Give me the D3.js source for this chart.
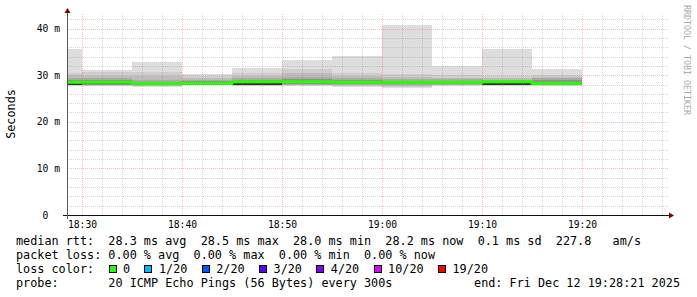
<!DOCTYPE html>
<html><head><meta charset="utf-8">
<script src="https://cdn.jsdelivr.net/npm/d3@7"></script>
<style>
html,body{margin:0;padding:0;background:#fff;}
svg{display:block;}
text{font-family:"DejaVu Sans Mono",monospace;}
</style></head><body>
<svg id="chart" width="697" height="297"></svg>
<script>
// ---- data (ms), one value per 5-minute bin, bins end at these times ----
const binEnds  = ["18:30","18:35","18:40","18:45","18:50","18:55","19:00","19:05","19:10","19:15","19:20"];
const median   = [28.5, 28.5, 28.2, 28.3, 28.6, 28.6, 28.5, 28.5, 28.5, 28.6, 28.3];
const pingMax  = [35.6, 31.1, 32.8, 30.2, 31.6, 33.3, 34.1, 40.8, 32.0, 35.6, 31.3];
const band2Hi  = [30.5, 30.6, 30.7, 29.8, 30.5, 31.4, 30.5, 30.3, 30.0, 29.8, 30.0];
const band3Hi  = [30.0, 29.9, 29.8, 29.5, 29.8, 30.4, 29.8, 29.6, 29.5, 29.3, 29.6];
const band4Hi  = [29.4, 29.3, 29.0, 29.0, 29.3, 29.6, 29.3, 29.1, 29.1, 29.0, 29.3];
const band5Hi  = [29.0, 28.9, 28.6, 28.7, 29.0, 29.1, 28.9, 28.8, 28.8, 28.8, 29.0];
const coreHi   = [28.6, 28.6, 28.3, 28.5, 28.7, 28.8, 28.6, 28.6, 28.6, 28.7, 28.5];
const coreLo   = [28.0, 28.1, 28.0, 28.1, 28.0, 28.4, 28.3, 28.3, 28.3, 28.0, 28.1];
const band5Lo  = [27.95,27.9, 27.9, 28.0, 27.9, 28.2, 28.1, 28.1, 28.1, 27.95,28.0];
const band4Lo  = [27.9, 27.85,27.8, 27.95,27.85,28.0, 27.9, 27.9, 28.0, 27.9, 27.9];
const band3Lo  = [27.85,27.8, 27.7, 27.9, 27.8, 27.9, 27.8, 27.7, 27.9, 27.85,27.85];
const band2Lo  = [27.8, 27.75,27.6, 27.85,27.75,27.8, 27.6, 27.5, 27.8, 27.8, 27.8];
const pingMin  = [27.7, 27.6, 27.5, 27.8, 27.6, 27.6, 27.4, 27.3, 27.7, 27.7, 27.7];

const yTickValues = [0, 10, 20, 30, 40];
const yTickLabels = ["0", "10 m", "20 m", "30 m", "40 m"];
const xTickLabels = ["18:30","18:40","18:50","19:00","19:10","19:20"];

const lossColors = ["#26ff00","#00b8ff","#0059ff","#5e00ff","#7e00ff","#dd00ff","#ff0000"];
const lossLabels = ["0","1/20","2/20","3/20","4/20","10/20","19/20"];

const legendRtt  = "median rtt:  28.3 ms avg  28.5 ms max  28.0 ms min  28.2 ms now  0.1 ms sd  227.8   am/s";
const legendLoss = "packet loss: 0.00 % avg  0.00 % max  0.00 % min  0.00 % now";
const legendProbe = "probe:       20 ICMP Echo Pings (56 Bytes) every 300s";
const legendEnd  = "end: Fri Dec 12 19:28:21 2025";

// ---- chart ----
const svg = d3.select("#chart");
const parse = d3.timeParse("%H:%M:%S");
const tStart = parse("18:28:30"), tEnd = parse("19:28:30");
const x = d3.scaleTime().domain([tStart, tEnd]).range([67, 667]);
const y = d3.scaleLinear().domain([0, 43.35]).range([215, 13]);
const nb = s => s.replace(/ /g, "\u00a0");

const bins = binEnds.map((e, i) => {
  const end = parse(e + ":00");
  const start = new Date(+end - 300000);
  return {i, start: start < tStart ? tStart : start, end};
});

const bands = [
  [pingMin, pingMax, "#dddddd"],
  [band2Lo, band2Hi, "#cecece"],
  [band3Lo, band3Hi, "#bcbcbc"],
  [band4Lo, band4Hi, "#aaaaaa"],
  [band5Lo, band5Hi, "#8f8f8f"],
  [coreLo, coreHi, "#353535"]
];
const gSmoke = svg.append("g").attr("shape-rendering", "crispEdges");
bands.forEach(([lo, hi, col]) => {
  gSmoke.append("g").selectAll("rect").data(bins).join("rect")
    .attr("x", d => x(d.start))
    .attr("width", d => x(d.end) - x(d.start))
    .attr("y", d => y(hi[d.i]))
    .attr("height", d => y(lo[d.i]) - y(hi[d.i]))
    .attr("fill", col);
});

// median line (step)
const medPts = bins.map(d => [d.start, median[d.i]]);
medPts.push([bins[bins.length - 1].end, median[median.length - 1]]);
svg.append("path")
  .attr("d", d3.line().x(d => x(d[0])).y(d => y(d[1])).curve(d3.curveStepAfter)(medPts))
  .attr("fill", "none").attr("stroke", lossColors[0]).attr("stroke-width", 3);

// grid (drawn over data like rrdtool)
const gGrid = svg.append("g").attr("shape-rendering", "crispEdges");
const minorT = d3.timeMinute.every(2).range(tStart, tEnd).filter(t => t.getMinutes() % 10 !== 0);
const majorT = d3.timeMinute.every(10).range(tStart, tEnd);
const minorY = d3.range(2, 43.35, 2).filter(v => v % 10 !== 0);
const majorY = yTickValues.filter(v => v > 0);
const minorCol = "rgba(150,150,150,0.38)", majorCol = "rgba(230,100,100,0.4)";
gGrid.selectAll(".mv").data(minorT).join("line")
  .attr("x1", d => Math.round(x(d)) + 0.5).attr("x2", d => Math.round(x(d)) + 0.5)
  .attr("y1", y(0)).attr("y2", 13)
  .attr("stroke", minorCol).attr("stroke-dasharray", "1,1");
gGrid.selectAll(".mh").data(minorY).join("line")
  .attr("y1", d => Math.round(y(d)) + 0.5).attr("y2", d => Math.round(y(d)) + 0.5)
  .attr("x1", 67).attr("x2", 668)
  .attr("stroke", minorCol).attr("stroke-dasharray", "1,1");
gGrid.selectAll(".Mv").data(majorT).join("line")
  .attr("x1", d => Math.round(x(d)) + 0.5).attr("x2", d => Math.round(x(d)) + 0.5)
  .attr("y1", y(0)).attr("y2", 13)
  .attr("stroke", majorCol).attr("stroke-dasharray", "1,1");
gGrid.selectAll(".Mh").data(majorY).join("line")
  .attr("y1", d => Math.round(y(d)) + 0.5).attr("y2", d => Math.round(y(d)) + 0.5)
  .attr("x1", 67).attr("x2", 668)
  .attr("stroke", majorCol).attr("stroke-dasharray", "1,1");

// axes lines + arrows
svg.append("line").attr("x1", 63).attr("x2", 670).attr("y1", 215.5).attr("y2", 215.5)
  .attr("stroke", "#111").attr("shape-rendering", "crispEdges");
svg.append("line").attr("x1", 67.5).attr("x2", 67.5).attr("y1", 219).attr("y2", 12)
  .attr("stroke", "#555").attr("shape-rendering", "crispEdges");
svg.append("path").attr("d", "M64.5,13L70.5,13L67.5,8Z").attr("fill", "#7f0000");
svg.append("path").attr("d", "M669,212.5L669,218.5L674,215.5Z").attr("fill", "#7f0000");

// tick labels via d3 axes
const yAxis = d3.axisLeft(y).tickValues(yTickValues).tickSize(0).tickPadding(7)
  .tickFormat((d, i) => { const l = yTickLabels[i]; return l.length < 4 ? l + "\u00a0\u00a0" : nb(l); });
const gy = svg.append("g").attr("transform", "translate(67,0)").call(yAxis);
gy.select(".domain").remove();
gy.selectAll("text").attr("font-family", "DejaVu Sans Mono").attr("font-size", "9.7px").attr("fill", "#000");

const xTicks = xTickLabels.map(s => parse(s + ":00"));
const xAxis = d3.axisBottom(x).tickValues(xTicks).tickSize(0).tickPadding(6)
  .tickFormat((d, i) => xTickLabels[i]);
const gx = svg.append("g").attr("transform", "translate(0,215)").call(xAxis);
gx.select(".domain").remove();
gx.selectAll("text").attr("font-family", "DejaVu Sans Mono").attr("font-size", "9.7px").attr("fill", "#000");

// axis title
svg.append("text").attr("transform", "translate(15,114) rotate(-90)")
  .attr("text-anchor", "middle").attr("font-size", "11.8px").attr("fill", "#000").text("Seconds");

// watermark
svg.append("text").attr("transform", "translate(684,5) rotate(90)")
  .attr("text-anchor", "start").attr("font-size", "8.3px").attr("fill", "#aaaaaa")
  .text(nb("RRDTOOL / TOBI OETIKER"));

// legend
const fs = "11.8px", cw = 7.12, lx = 16;
const leg = svg.append("g").attr("font-size", fs).attr("fill", "#000");
leg.append("text").attr("x", lx).attr("y", 245).text(nb(legendRtt));
leg.append("text").attr("x", lx).attr("y", 259).text(nb(legendLoss));
leg.append("text").attr("x", lx).attr("y", 273).text(nb("loss color:"));
let bx = lx + 13 * cw;
lossLabels.forEach((lab, i) => {
  leg.append("rect").attr("x", Math.round(bx) + 0.5).attr("y", 265.5).attr("width", 7).attr("height", 7)
    .attr("fill", lossColors[i]).attr("stroke", "#000").attr("shape-rendering", "crispEdges");
  leg.append("text").attr("x", bx + 14.5).attr("y", 273).text(lab);
  bx = bx + 14.5 + lab.length * cw + 14.3;
});
leg.append("text").attr("x", lx).attr("y", 287).text(nb(legendProbe));
leg.append("text").attr("x", 680).attr("y", 287).attr("text-anchor", "end").text(nb(legendEnd));
</script>
</body></html>
